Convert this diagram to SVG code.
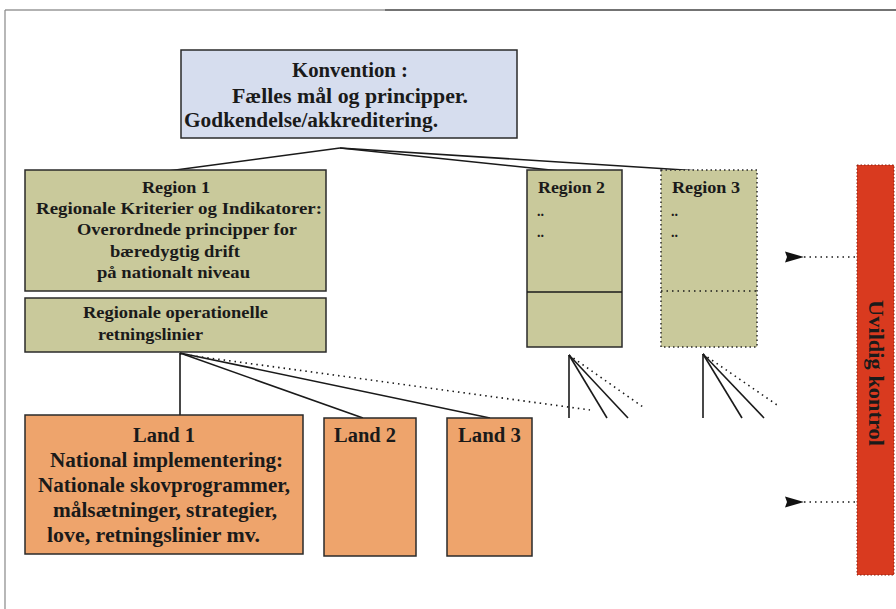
<svg xmlns="http://www.w3.org/2000/svg" width="896" height="609" viewBox="0 0 896 609">
<defs>
<style>
.t{font-family:"Liberation Serif","Times New Roman",serif;font-weight:bold;fill:#1a1a1a}
.box{stroke:#2a2a2a;stroke-width:1.5}
.reg{fill:#c9c99b}
.land{fill:#eea46c}
.ln{stroke:#1a1a1a;stroke-width:1.6;fill:none}
.dot{stroke:#1a1a1a;stroke-width:1.6;fill:none;stroke-dasharray:1.5 4}
</style>
<marker id="ah" viewBox="0 0 20 12" refX="1" refY="6" markerWidth="20" markerHeight="12" markerUnits="userSpaceOnUse" orient="auto">
<path d="M19,0.5 L0,6 L19,11.5 L17,6 Z" fill="#111"/>
</marker>
</defs>
<rect width="896" height="609" fill="#fff"/>
<g id="frame">
<line x1="5" y1="10" x2="385" y2="10" stroke="#999" stroke-width="1.5"/>
<line x1="385" y1="10" x2="896" y2="10" stroke="#444" stroke-width="1.5"/>
<line x1="5" y1="10" x2="5" y2="609" stroke="#888" stroke-width="1.2"/>
</g>
<g id="connectors">
<line class="ln" x1="340" y1="148" x2="168" y2="171"/>
<line class="ln" x1="340" y1="148" x2="560" y2="171"/>
<line class="ln" x1="340" y1="148" x2="700" y2="171"/>
<line class="ln" x1="180" y1="353" x2="180" y2="415"/>
<line class="ln" x1="180" y1="353" x2="363" y2="418"/>
<line class="ln" x1="180" y1="353" x2="490" y2="418"/>
<line class="dot" x1="180" y1="354" x2="590" y2="410"/>
<line class="ln" x1="569" y1="355" x2="569" y2="418"/>
<line class="ln" x1="569" y1="355" x2="607" y2="418"/>
<line class="ln" x1="569" y1="355" x2="628" y2="418"/>
<line class="dot" x1="569" y1="355" x2="643" y2="407"/>
<line class="ln" x1="703" y1="354" x2="703" y2="418"/>
<line class="ln" x1="703" y1="354" x2="742" y2="418"/>
<line class="ln" x1="703" y1="354" x2="764" y2="418"/>
<line class="dot" x1="703" y1="354" x2="780" y2="407"/>
<line class="dot" x1="855" y1="257" x2="803" y2="257" stroke-dasharray="1.5 3" marker-end="url(#ah)"/>
<line class="dot" x1="855" y1="502" x2="803" y2="502" stroke-dasharray="1.5 3" marker-end="url(#ah)"/>
</g>
<g id="konvention">
<rect class="box" x="181" y="50" width="336" height="88" fill="#d6ddee"/>
<text class="t" font-size="20" x="292" y="77" textLength="116" lengthAdjust="spacingAndGlyphs">Konvention :</text>
<text class="t" font-size="20" x="232" y="103" textLength="236" lengthAdjust="spacingAndGlyphs">Fælles mål og principper.</text>
<text class="t" font-size="20" x="184" y="127" textLength="254" lengthAdjust="spacingAndGlyphs">Godkendelse/akkreditering.</text>
</g>
<g id="region1">
<rect class="box reg" x="25" y="170" width="301" height="121"/>
<text class="t" font-size="16" x="142" y="193" textLength="68" lengthAdjust="spacingAndGlyphs">Region 1</text>
<text class="t" font-size="16" x="36" y="214" textLength="286" lengthAdjust="spacingAndGlyphs">Regionale Kriterier og Indikatorer:</text>
<text class="t" font-size="16" x="77" y="235" textLength="220" lengthAdjust="spacingAndGlyphs">Overordnede principper for</text>
<text class="t" font-size="16" x="110" y="257" textLength="130" lengthAdjust="spacingAndGlyphs">bæredygtig drift</text>
<text class="t" font-size="16" x="97" y="278" textLength="153" lengthAdjust="spacingAndGlyphs">på nationalt niveau</text>
</g>
<g id="region1ops">
<rect class="box reg" x="25" y="298" width="301" height="54"/>
<text class="t" font-size="16" x="83" y="318" textLength="185" lengthAdjust="spacingAndGlyphs">Regionale operationelle</text>
<text class="t" font-size="16" x="98" y="340" textLength="105" lengthAdjust="spacingAndGlyphs">retningslinier</text>
</g>
<g id="region2">
<rect class="box reg" x="527" y="170" width="95" height="177"/>
<line class="ln" x1="527" y1="292" x2="622" y2="292"/>
<text class="t" font-size="17" x="538" y="193" textLength="67" lengthAdjust="spacingAndGlyphs">Region 2</text>
<text class="t" font-size="14" x="537" y="216">..</text>
<text class="t" font-size="14" x="537" y="237">..</text>
</g>
<g id="region3">
<rect x="661" y="170" width="96" height="177" class="reg" stroke="#2a2a2a" stroke-width="1.5" stroke-dasharray="1.5 3"/>
<line class="dot" x1="661" y1="291" x2="757" y2="291" stroke-dasharray="1.5 3"/>
<text class="t" font-size="17" x="672" y="193" textLength="68" lengthAdjust="spacingAndGlyphs">Region 3</text>
<text class="t" font-size="14" x="671" y="216">..</text>
<text class="t" font-size="14" x="671" y="237">..</text>
</g>
<g id="land1">
<rect class="box land" x="25" y="415" width="278" height="139"/>
<text class="t" font-size="20" x="133" y="442" textLength="62" lengthAdjust="spacingAndGlyphs">Land 1</text>
<text class="t" font-size="20" x="50" y="467" textLength="233" lengthAdjust="spacingAndGlyphs">National implementering:</text>
<text class="t" font-size="20" x="38" y="492" textLength="252" lengthAdjust="spacingAndGlyphs">Nationale skovprogrammer,</text>
<text class="t" font-size="20" x="53" y="517" textLength="224" lengthAdjust="spacingAndGlyphs">målsætninger, strategier,</text>
<text class="t" font-size="20" x="47" y="542" textLength="213" lengthAdjust="spacingAndGlyphs">love, retningslinier mv.</text>
</g>
<g id="land2">
<rect class="box land" x="324" y="418" width="92" height="138"/>
<text class="t" font-size="20" x="334" y="442" textLength="62" lengthAdjust="spacingAndGlyphs">Land 2</text>
</g>
<g id="land3">
<rect class="box land" x="447" y="418" width="85" height="138"/>
<text class="t" font-size="20" x="458" y="442" textLength="63" lengthAdjust="spacingAndGlyphs">Land 3</text>
</g>
<g id="uvildig">
<rect x="857" y="165" width="37" height="410" fill="#d93a1f" stroke="#8a2010" stroke-width="1" stroke-dasharray="1.5 2"/>
<text class="t" font-size="20" transform="translate(869,300) rotate(90)" textLength="146" lengthAdjust="spacingAndGlyphs">Uvildig kontrol</text>
</g>
</svg>
